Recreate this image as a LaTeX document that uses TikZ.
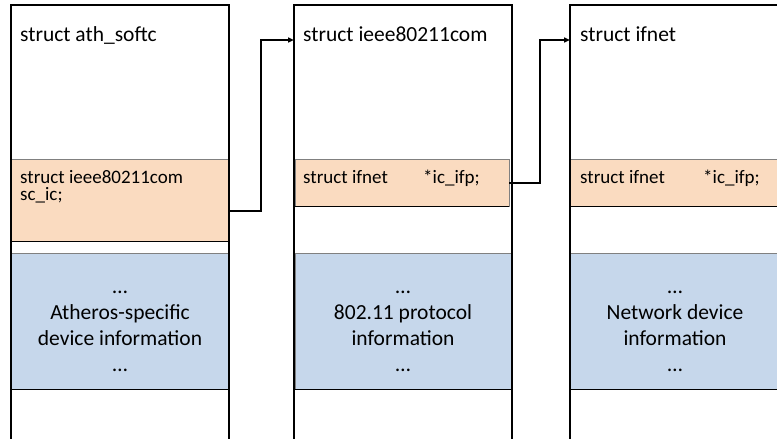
\documentclass[tikz,border=0pt]{standalone}
\usepackage{fontspec}
\setmainfont{Carlito}
\usetikzlibrary{arrows.meta}
\definecolor{bandorange}{HTML}{FADBC0}
\definecolor{bandblue}{HTML}{C6D7EB}
\definecolor{bandedge}{HTML}{808080}
\tikzset{
  x=1pt, y=-1pt,
  structbox/.style={draw=black, line width=2pt, inner sep=0pt, outer sep=0pt, anchor=north west, minimum height=520pt},
  oband/.style={fill=bandorange, draw=bandedge, line width=1pt, inner sep=0pt, outer sep=0pt, anchor=north west},
  bband/.style={fill=bandblue, draw=bandedge, line width=1pt, inner sep=0pt, outer sep=0pt, anchor=north west},
  title/.style={anchor=base west, inner sep=0pt, font=\fontsize{21.5}{26}\selectfont},
  field/.style={anchor=base west, inner sep=0pt, font=\fontsize{19}{17.5}\selectfont},
  info/.style={align=center, inner sep=0pt, font=\fontsize{21.5}{26}\selectfont},
  ptr/.style={draw=black, line width=1.5pt, -{Triangle[length=6pt,width=5pt]}},
}
\begin{document}
\begin{tikzpicture}
\useasboundingbox (0,0) rectangle (777,439);
\clip (0,0) rectangle (777,439);
\fill[white] (0,0) rectangle (777,439);
% bands
\node[oband, minimum width=218pt, minimum height=82pt] (o1) at (11,159) {};
\node[oband, minimum width=214pt, minimum height=47pt] (o2) at (295,159) {};
\node[oband, minimum width=230pt, minimum height=47pt] (o3) at (570,159) {};
\node[bband, minimum width=218pt, minimum height=136pt] (u1) at (11,253) {};
\node[bband, minimum width=217pt, minimum height=136pt] (u2) at (295,253) {};
\node[bband, minimum width=230pt, minimum height=136pt] (u3) at (570,253) {};
\foreach \n in {o1,o2,o3,u1,u2,u3}
  \draw[black, line width=1pt] (\n.south west) -- (\n.south east);
% outer structure boxes
\node[structbox, minimum width=218pt] (b1) at (11,5) {};
\node[structbox, minimum width=218pt] (b2) at (294,5) {};
\node[structbox, minimum width=260pt] (b3) at (570,5) {};
% titles
\node[title] (t1) at (20,41) {struct ath\_softc};
\node[title] (t2) at (303,41) {struct ieee80211com};
\node[title] (t3) at (580,41) {struct ifnet};
% fields
\node[field, align=left] (f1) at (20,200.5) {struct ieee80211com\\sc\_ic;};
\node[field] (f2a) at (303,183) {struct ifnet};
\node[field] (f2b) at (423,183) {*ic\_ifp;};
\node[field] (f3a) at (580,183) {struct ifnet};
\node[field] (f3b) at (703,183) {*ic\_ifp;};
% info
\node[info] (i1) at (120,331) {…\\Atheros-specific\\device information\\…};
\node[info] (i2) at (403,331) {…\\802.11 protocol\\information\\…};
\node[info] (i3) at (675,331) {…\\Network device\\information\\…};
% connectors
\coordinate (p1) at (229,211);
\coordinate (in2) at (294,40);
\coordinate (p2) at (509,183);
\coordinate (in3) at (570,40);
\draw[ptr] (p1) -- ++(32,0) |- (in2);
\draw[ptr] (p2) -- ++(31,0) |- (in3);
\end{tikzpicture}
\end{document}
